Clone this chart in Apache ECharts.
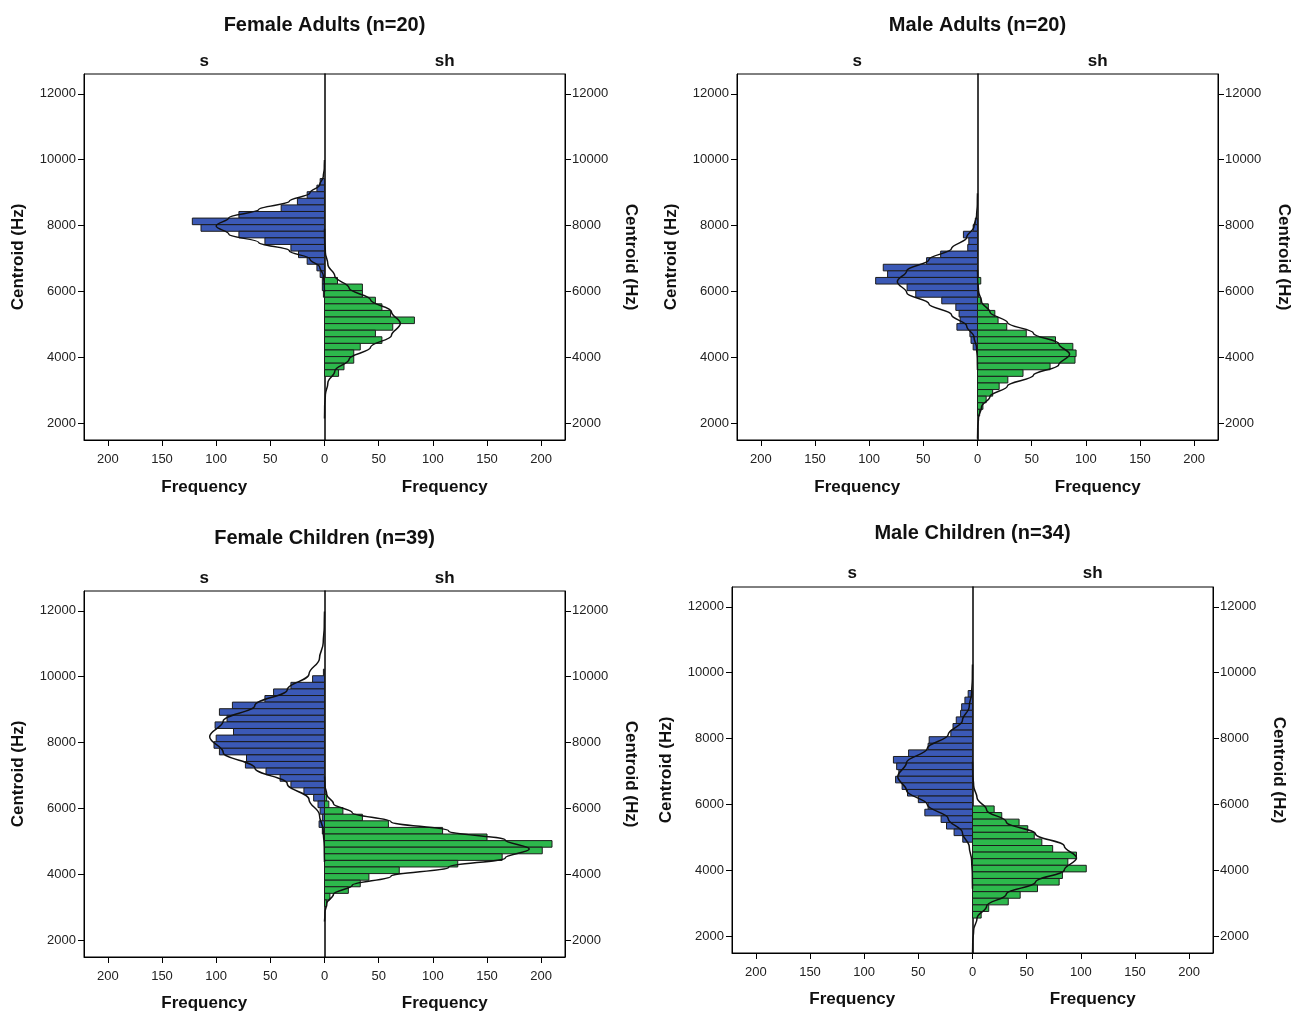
<!DOCTYPE html>
<html>
<head>
<meta charset="utf-8">
<title>Centroid by fricative</title>
<script src="https://cdn.jsdelivr.net/npm/echarts@6/dist/echarts.min.js"></script>
<style>
  html, body { margin: 0; padding: 0; background: #fff; }
  #chart { width: 1291px; height: 1012px; }
</style>
</head>
<body>
<div id="chart"></div>
<script>
var binHz = 200;
var panelTitles = ['Female Adults (n=20)', 'Male Adults (n=20)', 'Female Children (n=39)', 'Male Children (n=34)'];
var sideLabels = ['s', 'sh'];
var freqTicks = [-200, -150, -100, -50, 0, 50, 100, 150, 200];
var hzTicks = [2000, 4000, 6000, 8000, 10000, 12000];

// histogram counts, top bin first; *Top is the upper edge (Hz) of the first bin
var faSTop = 9430;
var faS = [4, 7, 16, 25, 40, 79, 122, 114, 79, 55, 31, 24, 16, 7, 4, 2, 2, 1];
var faShTop = 6430;
var faSh = [12, 35, 35, 47, 53, 61, 83, 63, 47, 53, 33, 27, 27, 18, 13];

var maSTop = 8230;
var maS = [2, 4, 13, 8, 9, 34, 47, 87, 83, 94, 65, 57, 33, 20, 17, 16, 19, 7, 6, 4];
var maShTop = 6430;
var maSh = [3, 0, 1, 3, 10, 16, 19, 27, 45, 72, 88, 91, 90, 67, 42, 28, 20, 14, 8, 5, 2];

var fcSTop = 10230;
var fcS = [1, 11, 31, 47, 55, 85, 97, 90, 101, 84, 100, 102, 97, 72, 73, 54, 41, 31, 19, 10, 6, 4, 2, 5, 2];
var fcShTop = 6430;
var fcSh = [2, 4, 17, 35, 59, 109, 150, 210, 201, 164, 123, 69, 41, 33, 22, 5, 2];

var mcSTop = 9460;
var mcS = [4, 7, 10, 11, 15, 18, 20, 40, 41, 59, 73, 70, 68, 71, 65, 60, 50, 41, 44, 29, 24, 17, 9];
var mcShTop = 5960;
var mcSh = [20, 27, 43, 51, 57, 64, 74, 96, 88, 105, 83, 80, 60, 44, 33, 15, 8];

// normal curves: [Hz, frequency]
var faSCurve = [[5990,0],[6240,0.2],[6490,1.1],[6740,4.4],[6990,13.5],[7240,32.5],[7490,60.7],[7740,88.3],[7990,100],[8240,88.3],[8490,60.7],[8740,32.5],[8990,13.5],[9240,4.4],[9490,1.1],[9740,0.2],[9990,0]];
var faShCurve = [[2150,0],[2510,0.15],[2870,0.8],[3230,3.1],[3590,9.5],[3950,22.7],[4310,42.5],[4670,61.8],[5030,70],[5390,61.8],[5750,42.5],[6110,22.7],[6470,9.5],[6830,3.1],[7190,0.8],[7550,0.15],[7910,0]];
var maSCurve = [[3620,0],[3955,0.16],[4290,0.82],[4625,3.25],[4960,10],[5295,24],[5630,44.9],[5965,65.3],[6300,74],[6635,65.3],[6970,44.9],[7305,24],[7640,10],[7975,3.25],[8310,0.82],[8645,0.16],[8980,0]];
var maShCurve = [[1540,0],[1860,0.19],[2180,0.94],[2500,3.73],[2820,11.5],[3140,27.6],[3460,51.6],[3780,75],[4100,85],[4420,75],[4740,51.6],[5060,27.6],[5380,11.5],[5700,3.73],[6020,0.94],[6340,0.19],[6660,0]];
var fcSCurve = [[4380,0],[4855,0.23],[5330,1.18],[5805,4.65],[6280,14.3],[6755,34.4],[7230,64.3],[7705,93.5],[8180,106],[8655,93.5],[9130,64.3],[9605,34.4],[10080,14.3],[10555,4.65],[11030,1.18],[11505,0.23],[11980,0]];
var fcShCurve = [[2575,0],[2850,0.42],[3125,2.1],[3400,8.3],[3675,25.6],[3950,61.4],[4225,114.6],[4500,166.8],[4775,189],[5050,166.8],[5325,114.6],[5600,61.4],[5875,25.6],[6150,8.3],[6425,2.1],[6700,0.42],[6975,0]];
var mcSCurve = [[3450,0],[3875,0.15],[4300,0.77],[4725,3],[5150,9.3],[5575,22.4],[6000,41.8],[6425,60.9],[6850,69],[7275,60.9],[7700,41.8],[8125,22.4],[8550,9.3],[8975,3],[9400,0.77],[9825,0.15],[10250,0]];
var mcShCurve = [[1460,0],[1825,0.21],[2190,1.07],[2555,4.2],[2920,13],[3285,31.2],[3650,58.2],[4015,84.7],[4380,96],[4745,84.7],[5110,58.2],[5475,31.2],[5840,13],[6205,4.2],[6570,1.07],[6935,0.21],[7300,0]];

var panels = [
  { s: faS, sTop: faSTop, sh: faSh, shTop: faShTop, sCurve: faSCurve, shCurve: faShCurve },
  { s: maS, sTop: maSTop, sh: maSh, shTop: maShTop, sCurve: maSCurve, shCurve: maShCurve },
  { s: fcS, sTop: fcSTop, sh: fcSh, shTop: fcShTop, sCurve: fcSCurve, shCurve: fcShCurve },
  { s: mcS, sTop: mcSTop, sh: mcSh, shTop: mcShTop, sCurve: mcSCurve, shCurve: mcShCurve }
];

// page layout (px)
var layout = [
  { left: 84,  top: 74,  titleY: 25,  sideY: 61,  freqY: 487 },
  { left: 737, top: 74,  titleY: 25,  sideY: 61,  freqY: 487 },
  { left: 84,  top: 591, titleY: 538, sideY: 578, freqY: 1003 },
  { left: 732, top: 587, titleY: 533, sideY: 573, freqY: 999 }
];
var W = 481, H = 366;
var BLUE = '#3b59b6', GREEN = '#2db84c', EDGE = '#1c1c1c';
var FONT = '"Liberation Sans", Arial, sans-serif';

function binRows(top, counts, side) {
  return counts.map(function (c, i) {
    var hi = top - i * binHz;
    return [hi - binHz, hi, c, side];
  });
}

function renderBar(params, api) {
  var lo = api.value(0), hi = api.value(1), c = api.value(2), side = api.value(3);
  if (!c) return null;
  var a = api.coord([0, hi]);
  var b = api.coord([side * c, lo]);
  return {
    type: 'rect',
    shape: { x: Math.min(a[0], b[0]), y: a[1], width: Math.abs(b[0] - a[0]), height: b[1] - a[1] },
    style: { fill: side < 0 ? BLUE : GREEN, stroke: EDGE, lineWidth: 1 }
  };
}

function curveData(curve, side) {
  return curve.map(function (p) { return [side * p[1], p[0]]; });
}

var grid = [], xAxis = [], yAxis = [], series = [], graphic = [];

panels.forEach(function (p, i) {
  var L = layout[i];
  var cx = L.left + W / 2;
  grid.push({ left: L.left, top: L.top, width: W, height: H, show: true,
    borderColor: '#000', borderWidth: 1, outerBoundsMode: 'none' });

  xAxis.push({
    gridIndex: i, type: 'value', min: -222, max: 222,
    axisLine: { show: true, onZero: false, lineStyle: { color: '#000', width: 1 } },
    axisTick: { show: true, customValues: freqTicks, length: 6, lineStyle: { color: '#000' } },
    axisLabel: { customValues: freqTicks, formatter: function (v) { return String(Math.abs(v)); },
      color: '#222', fontSize: 13, fontFamily: FONT, margin: 13 },
    splitLine: { show: false }
  });

  ['left', 'right'].forEach(function (pos) {
    yAxis.push({
      gridIndex: i, type: 'value', min: 1500, max: 12600, position: pos,
      name: 'Centroid (Hz)', nameLocation: 'middle', nameGap: 57,
      nameRotate: pos === 'left' ? 90 : -90,
      nameTextStyle: { fontWeight: 'bold', fontSize: 17, color: '#111', fontFamily: FONT },
      axisLine: { show: true, onZero: false, lineStyle: { color: '#000', width: 1 } },
      axisTick: { show: true, inside: false, customValues: hzTicks, length: 6, lineStyle: { color: '#000' } },
      axisLabel: { customValues: hzTicks, formatter: function (v) { return String(v); },
        color: '#222', fontSize: 13, fontFamily: FONT, margin: pos === 'left' ? 8 : 7 },
      splitLine: { show: false }
    });
  });
  // the zero line between the two halves: a bare y axis sitting on frequency 0
  yAxis.push({
    gridIndex: i, type: 'value', min: 1500, max: 12600,
    axisLine: { show: true, onZero: true, lineStyle: { color: '#000', width: 1.5 } },
    axisTick: { show: false }, axisLabel: { show: false }, splitLine: { show: false }
  });

  var yi = i * 3;
  series.push({
    type: 'custom', name: 's', xAxisIndex: i, yAxisIndex: yi,
    data: binRows(p.sTop, p.s, -1), renderItem: renderBar, encode: { x: 2, y: 1 }, silent: true, z: 2
  });
  series.push({
    type: 'custom', name: 'sh', xAxisIndex: i, yAxisIndex: yi,
    data: binRows(p.shTop, p.sh, 1), renderItem: renderBar, encode: { x: 2, y: 1 }, silent: true, z: 2
  });
  series.push({
    type: 'line', xAxisIndex: i, yAxisIndex: yi, data: curveData(p.sCurve, -1),
    showSymbol: false, smooth: 0.4, smoothMonotone: 'y', silent: true, z: 3,
    lineStyle: { color: '#111', width: 1.5 }
  });
  series.push({
    type: 'line', xAxisIndex: i, yAxisIndex: yi, data: curveData(p.shCurve, 1),
    showSymbol: false, smooth: 0.4, smoothMonotone: 'y', silent: true, z: 3,
    lineStyle: { color: '#111', width: 1.5 }
  });

  graphic.push({ type: 'text', x: cx, y: L.titleY, style: { text: panelTitles[i],
    font: 'bold 20px ' + FONT, fill: '#111', align: 'center', verticalAlign: 'middle' } });
  [-1, 1].forEach(function (side, k) {
    var hx = cx + side * W / 4;
    graphic.push({ type: 'text', x: hx, y: L.sideY, style: { text: sideLabels[k],
      font: 'bold 17px ' + FONT, fill: '#111', align: 'center', verticalAlign: 'middle' } });
    graphic.push({ type: 'text', x: hx, y: L.freqY, style: { text: 'Frequency',
      font: 'bold 17px ' + FONT, fill: '#111', align: 'center', verticalAlign: 'middle' } });
  });
});

var chart = echarts.init(document.getElementById('chart'));
chart.setOption({
  animation: false,
  backgroundColor: '#fff',
  grid: grid,
  xAxis: xAxis,
  yAxis: yAxis,
  series: series,
  graphic: graphic
});
</script>
</body>
</html>
